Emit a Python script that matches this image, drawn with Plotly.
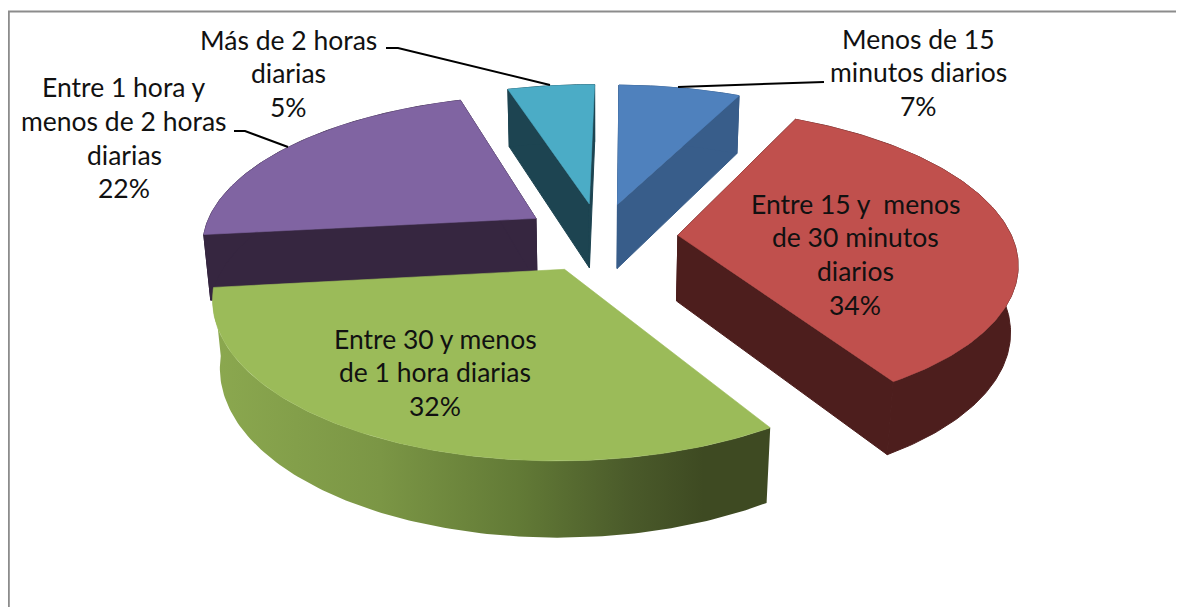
import numpy as np
import plotly.graph_objects as go

categories = ["Menos de 15 minutos diarios", "Entre 15 y menos de 30 minutos diarios",
              "Entre 30 y menos de 1 hora diarias", "Entre 1 hora y menos de 2 horas diarias",
              "Más de 2 horas diarias"]
percent_values = [7, 34, 32, 22, 5]
top_colors = ["#4f81bd", "#c0504d", "#9bbb59", "#8064a2", "#4bacc6"]
side_colors = ["#385d8a", "#4d1e1d", "#3e4a22", "#362640", "#1d4451"]
green_rim_scale = [[0, "#8ba84f"], [0.3, "#7b9645"], [0.55, "#627a36"], [0.75, "#4a5a2a"], [0.88, "#3e4a22"], [1, "#3e4a22"]]
label_lines = [
    ["Menos de 15", "minutos diarios", "7%"],
    ["Entre 15 y  menos", "de 30 minutos", "diarios", "34%"],
    ["Entre 30 y menos", "de 1 hora diarias", "32%"],
    ["Entre 1 hora y", "menos de 2 horas", "diarias", "22%"],
    ["Más de 2 horas", "diarias", "5%"],
]
label_x = [918, 855, 435, 124, 288]
label_y0 = [38.5, 203.5, 338.5, 87, 39.5]
leaders = [([824, 678], [82, 87]),
           ([386, 398, 550], [48, 48, 85]),
           ([234, 245, 288], [131, 131, 147])]

# perspective projection of the pie, in page pixels
CX, CY, A, B, P, D, Q, EXPLODE = 600, 237, 334, 148.5, 0.163, 67, 0.018, 0.234
FIRST_SLICE_ANGLE = np.radians(0.8)


def project(X, Y, bottom=0):
    w = 1 + P * np.asarray(Y) + Q * bottom
    return CX + A * np.asarray(X) / w, CY - B * np.asarray(Y) / w + D * bottom / w


fig = go.Figure()


def poly(x, y, color, width=0.6, **kw):
    x, y = np.append(x, x[0]), np.append(y, y[0])
    fig.add_trace(go.Scatter(x=x, y=y, mode="lines", fill="toself", fillcolor=color,
                             line=dict(color=color, width=width), hoverinfo="skip",
                             showlegend=False, **kw))


edges = FIRST_SLICE_ANGLE + np.cumsum([0] + percent_values) / sum(percent_values) * 2 * np.pi
draw_order = [4, 0, 3, 1, 2]
for i in draw_order:
    a0, a1 = edges[i], edges[i + 1]
    mid = (a0 + a1) / 2
    ox, oy = EXPLODE * np.sin(mid), EXPLODE * np.cos(mid)
    t = np.linspace(a0, a1, max(12, int(percent_values[i] * 4)))
    ax, ay = ox + np.sin(t), oy + np.cos(t)
    tx, ty = project(ax, ay)
    bx, by = project(ax, ay, 1)
    cx, cy = project(ox, oy)
    cbx, cby = project(ox, oy, 1)
    # outer rim and radial walls (the green slice shows only its rim)
    rx, ry = np.r_[tx, bx[::-1]], np.r_[ty, by[::-1]]
    if i == 2:
        fig.add_trace(go.Scatter(x=np.append(rx, rx[0]), y=np.append(ry, ry[0]), mode="lines",
                                 fill="toself", line=dict(width=0), hoverinfo="skip", showlegend=False,
                                 fillgradient=dict(type="horizontal", colorscale=green_rim_scale)))
    else:
        poly(np.array([cx, tx[0], bx[0], cbx]), np.array([cy, ty[0], by[0], cby]), side_colors[i], width=1)
        poly(np.array([cx, tx[-1], bx[-1], cbx]), np.array([cy, ty[-1], by[-1], cby]), side_colors[i], width=1)
        poly(rx, ry, side_colors[i], width=1)
    # top face
    poly(np.r_[cx, tx], np.r_[cy, ty], top_colors[i], name=categories[i])

for lx, ly in leaders:
    fig.add_trace(go.Scatter(x=lx, y=ly, mode="lines", line=dict(color="#000000", width=2),
                             hoverinfo="skip", showlegend=False))

for lines, x, y0 in zip(label_lines, label_x, label_y0):
    for k, line in enumerate(lines):
        fig.add_annotation(x=x, y=y0 + 33.8 * k, text=line, showarrow=False, xanchor="center",
                           yanchor="middle", font=dict(family="Lato", size=26.5, color="#111111"))

# frame of the chart area, cut by the picture's edges
fig.add_shape(type="line", x0=8.8, x1=8.8, y0=11.5, y1=607, line=dict(color="#8c8c8c", width=2))
fig.add_shape(type="line", x0=8, x1=1184, y0=11.5, y1=11.5, line=dict(color="#8c8c8c", width=2))

# the page adds an 8 px body margin, so the figure covers page pixels 8..1184 and 8..607
fig.update_layout(width=1176, height=599, margin=dict(l=0, r=0, t=0, b=0),
                  paper_bgcolor="white", plot_bgcolor="white", showlegend=False,
                  xaxis=dict(range=[8, 1184], visible=False, fixedrange=True),
                  yaxis=dict(range=[607, 8], visible=False, fixedrange=True))
fig.write_html("out.html", config={"displayModeBar": False})
